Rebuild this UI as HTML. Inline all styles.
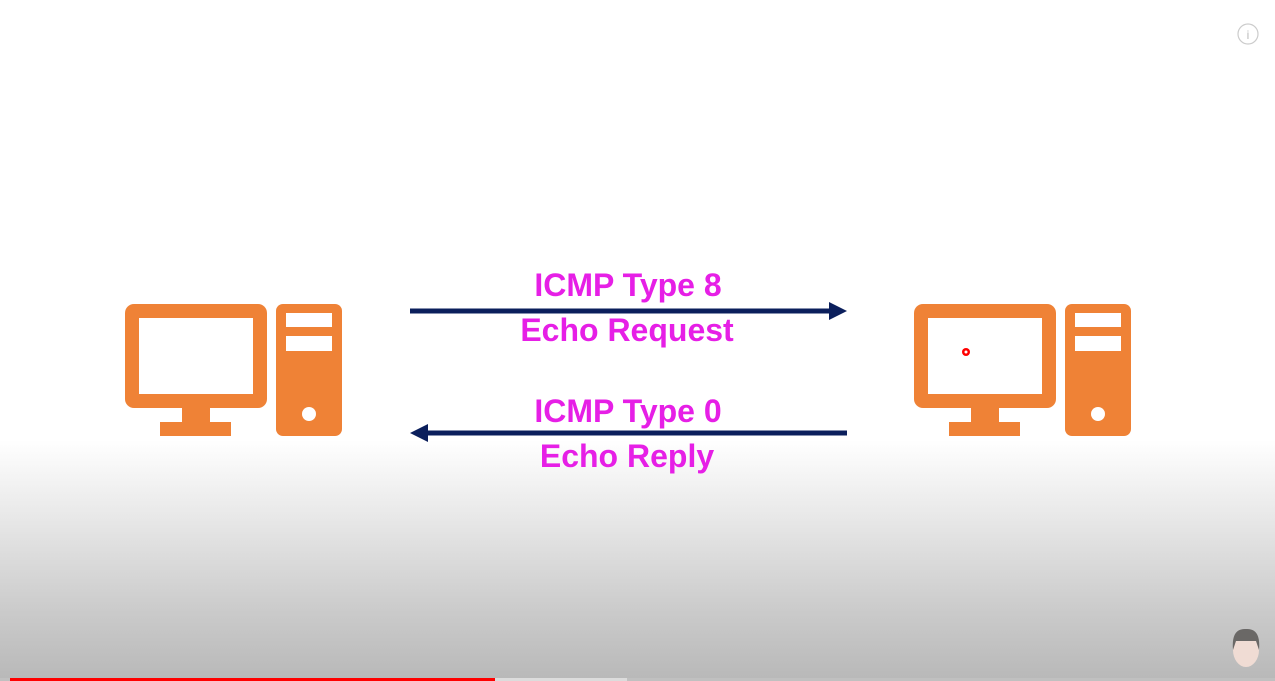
<!DOCTYPE html>
<html><head><meta charset="utf-8"><style>
html,body{margin:0;padding:0}
body{width:1275px;height:681px;overflow:hidden;background:linear-gradient(to bottom,#fff 0px,#fff 440px,#e4e4e4 530px,#cbcbcb 610px,#b8b8b8 681px);position:relative;font-family:"Liberation Sans",sans-serif}
</style></head><body>
<svg width="1275" height="681" style="position:absolute;left:0;top:0">
<defs>
<g id="pc">
<rect x="125" y="304" width="142" height="104" rx="9" fill="#ef8236"/>
<rect x="139" y="318" width="114" height="76" fill="#fff"/>
<rect x="182" y="406" width="28" height="18" fill="#ef8236"/>
<rect x="160" y="422" width="71" height="14" fill="#ef8236"/>
<rect x="276" y="304" width="66" height="132" rx="7" fill="#ef8236"/>
<rect x="286" y="313" width="46" height="14" fill="#fff"/>
<rect x="286" y="336" width="46" height="15" fill="#fff"/>
<circle cx="309" cy="414" r="7" fill="#fff"/>
</g>
</defs>
<use href="#pc"/>
<use href="#pc" transform="translate(789,0)"/>
<circle cx="966" cy="352" r="4" fill="#f00"/><circle cx="966" cy="352" r="1.5" fill="#fff"/>
<rect x="410" y="308.5" width="422" height="5" fill="#0b1f5c"/>
<polygon points="829,302 847,311 829,320" fill="#0b1f5c"/>
<rect x="425" y="430.5" width="422" height="5" fill="#0b1f5c"/>
<polygon points="428,424 410,433 428,442" fill="#0b1f5c"/>
<g fill="#e61fe6" font-family="Liberation Sans, sans-serif" font-weight="bold" font-size="32" text-anchor="middle">
<text x="628" y="296">ICMP Type 8</text>
<text x="627" y="341">Echo Request</text>
<text x="628" y="422">ICMP Type 0</text>
<text x="627" y="467">Echo Reply</text>
</g>
<circle cx="1248" cy="34" r="10" fill="none" stroke="#ccc" stroke-width="1.2"/>
<text x="1248" y="39" font-size="12" fill="#bbb" text-anchor="middle">i</text>
<ellipse cx="1246" cy="650" rx="13" ry="17" fill="#f0dcd4"/>
<path d="M1233,650 Q1231,628 1246,629 Q1261,628 1259,650 L1256,641 L1236,641 Z" fill="#6a6866"/>
<rect x="0" y="678" width="1275" height="3" fill="#c0c0c0"/>
<rect x="495" y="678" width="132" height="3" fill="#dcdcdc"/>
<rect x="10" y="678" width="485" height="3" fill="#f00"/>
</svg>
</body></html>
